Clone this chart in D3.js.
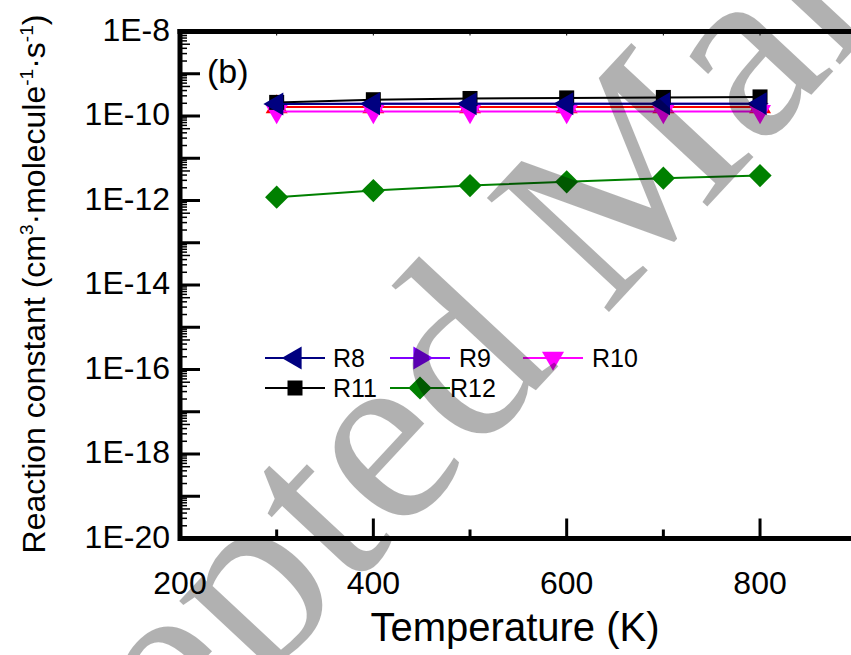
<!DOCTYPE html>
<meta charset="utf-8">
<script src="https://d3js.org/d3.v7.min.js"></script>
<style>
  body { margin: 0; background: #fff; }
  text { font-family: Arial, "Liberation Sans", sans-serif; }
</style>
<div id="chart"></div>
<script>
  // temperatures (K) and rate constants (cm3 molecule-1 s-1)
  var temps = [300, 400, 500, 600, 700, 800];
  var r7  = [1.64e-10, 1.64e-10, 1.64e-10, 1.64e-10, 1.64e-10, 1.64e-10];
  var r8  = [1.93e-10, 1.96e-10, 1.96e-10, 1.96e-10, 1.96e-10, 1.96e-10];
  var r9  = [1.93e-10, 1.96e-10, 1.96e-10, 1.96e-10, 1.96e-10, 1.96e-10];
  var r10 = [1.28e-10, 1.28e-10, 1.28e-10, 1.28e-10, 1.28e-10, 1.28e-10];
  var r11 = [2.1e-10, 2.43e-10, 2.6e-10, 2.68e-10, 2.75e-10, 2.83e-10];
  var r12 = [1.2e-12, 1.72e-12, 2.26e-12, 2.77e-12, 3.38e-12, 3.9e-12];

  var xTicks = [200, 400, 600, 800];
  var xMinor = [300, 500, 700];
  var yLabels = ["1E-20", "1E-18", "1E-16", "1E-14", "1E-12", "1E-10", "1E-8"];

  var width = 851, height = 655;

  var svg = d3.select("#chart")
    .append("svg")
      .attr("width", width)
      .attr("height", height);

  var x = d3.scaleLinear()
    .domain([200, 900])
    .range([180, 856.7]);

  var y = d3.scaleLog()
    .domain([1e-20, 1e-8])
    .range([538.5, 31.5]);

  // series: drawing order matters, navy ends on top (R9 sits hidden beneath it)
  var series = [
    {name: "R9",  vals: r9,  color: "#8000ff", shape: "right", plotSize: 100},
    {name: "R7",  vals: r7,  color: "#ff0000", shape: "up"},
    {name: "R10", vals: r10, color: "#ff00ff", shape: "down"},
    {name: "R12", vals: r12, color: "#008000", shape: "diamond"},
    {name: "R11", vals: r11, color: "#000000", shape: "square"},
    {name: "R8",  vals: r8,  color: "#000080", shape: "left"}
  ];

  function marker(shape, size) {
    if (shape == "square") return {d: d3.symbol(d3.symbolSquare, size || 225)(), rot: 0};
    if (shape == "diamond") return {d: d3.symbol(d3.symbolSquare, size || 270)(), rot: 45};
    if (shape == "left") return {d: d3.symbol(d3.symbolTriangle, size || 229)(), rot: -90};
    if (shape == "right") return {d: d3.symbol(d3.symbolTriangle, size || 229)(), rot: 90};
    if (shape == "down") return {d: d3.symbol(d3.symbolTriangle, size || 210)(), rot: 180};
    return {d: d3.symbol(d3.symbolTriangle, size || 210)(), rot: 0};
  }

  var line = d3.line()
    .x(function(d) { return x(d[0]); })
    .y(function(d) { return y(d[1]); });

  series.forEach(function(s) {
    var pts = temps.map(function(t, i) { return [t, s.vals[i]]; });
    var m = marker(s.shape, s.plotSize);
    svg.append("path")
      .datum(pts)
      .attr("fill", "none")
      .attr("stroke", s.color)
      .attr("stroke-width", 2)
      .attr("d", line);
    svg.selectAll(null)
      .data(pts)
      .enter()
      .append("path")
        .attr("d", m.d)
        .attr("fill", s.color)
        .attr("transform", function(d) {
          return "translate(" + x(d[0]) + "," + y(d[1]) + ") rotate(" + m.rot + ")";
        });
  });

  // axes frame
  var ax = svg.append("g").attr("stroke", "#000");
  ax.append("line").attr("x1", x(200)).attr("x2", width).attr("y1", y(1e-20)).attr("y2", y(1e-20)).attr("stroke-width", 5);
  ax.append("line").attr("x1", x(200) - 2.5).attr("x2", width).attr("y1", y(1e-8)).attr("y2", y(1e-8)).attr("stroke-width", 5);
  ax.append("line").attr("x1", x(200)).attr("x2", x(200)).attr("y1", y(1e-8) - 2.5).attr("y2", y(1e-20) + 2.5).attr("stroke-width", 5);

  // x ticks (inward)
  xTicks.forEach(function(t) {
    ax.append("line").attr("x1", x(t)).attr("x2", x(t)).attr("y1", y(1e-20)).attr("y2", y(1e-20) - 20).attr("stroke-width", 3);
  });
  xMinor.forEach(function(t) {
    ax.append("line").attr("x1", x(t)).attr("x2", x(t)).attr("y1", y(1e-20)).attr("y2", y(1e-20) - 9).attr("stroke-width", 3);
  });
  xTicks.concat(xMinor).forEach(function(t) {
    ax.append("line").attr("x1", x(t)).attr("x2", x(t)).attr("y1", y(1e-8)).attr("y2", y(1e-8) + 4).attr("stroke-width", 1);
  });

  // y ticks, every decade plus minor 2..9
  for (var e = -20; e <= -8; e++) {
    var v = Math.pow(10, e);
    ax.append("line").attr("x1", x(200)).attr("x2", x(200) + 20).attr("y1", y(v)).attr("y2", y(v)).attr("stroke-width", 3);
    if (e < -8) {
      for (var k = 2; k <= 9; k++) {
        ax.append("line").attr("x1", x(200)).attr("x2", x(200) + (k == 5 ? 10 : 7))
          .attr("y1", y(k * v)).attr("y2", y(k * v)).attr("stroke-width", 1.5);
      }
    }
  }

  // tick labels
  yLabels.forEach(function(lab) {
    svg.append("text")
      .attr("x", 170)
      .attr("y", y(+lab) - 2)
      .attr("dy", "0.35em")
      .attr("text-anchor", "end")
      .style("font-size", "32px")
      .text(lab);
  });
  xTicks.forEach(function(t) {
    svg.append("text")
      .attr("x", x(t))
      .attr("y", 594)
      .attr("text-anchor", "middle")
      .style("font-size", "32px")
      .text(t);
  });

  // axis titles
  svg.append("text")
    .attr("x", 515)
    .attr("y", 641)
    .attr("text-anchor", "middle")
    .style("font-size", "40px")
    .text("Temperature (K)");

  var yt = svg.append("text")
    .attr("transform", "translate(45,284) rotate(-90)")
    .attr("text-anchor", "middle")
    .style("font-size", "32px");
  yt.append("tspan").text("Reaction constant (cm");
  yt.append("tspan").attr("dy", -12).style("font-size", "19px").text("3");
  yt.append("tspan").attr("dy", 12).text("\u00b7molecule");
  yt.append("tspan").attr("dy", -12).style("font-size", "19px").text("-1");
  yt.append("tspan").attr("dy", 12).text("\u00b7s");
  yt.append("tspan").attr("dy", -12).style("font-size", "19px").text("-1");
  yt.append("tspan").attr("dy", 12).text(")");

  svg.append("text")
    .attr("x", 207)
    .attr("y", 83)
    .style("font-size", "34px")
    .text("(b)");

  // legend
  var legend = [
    {s: series[5], lx: 265, ly: 358, tx: 333},
    {s: series[0], lx: 390, ly: 358, tx: 459},
    {s: series[2], lx: 523, ly: 358, tx: 592},
    {s: series[4], lx: 265, ly: 388, tx: 333},
    {s: series[3], lx: 390, ly: 388, tx: 450}
  ];
  legend.forEach(function(l) {
    var m = marker(l.s.shape);
    svg.append("line")
      .attr("x1", l.lx).attr("x2", l.lx + 60)
      .attr("y1", l.ly).attr("y2", l.ly)
      .attr("stroke", l.s.color).attr("stroke-width", 2);
    svg.append("path")
      .attr("d", m.d)
      .attr("fill", l.s.color)
      .attr("transform", "translate(" + (l.lx + 30) + "," + l.ly + ") rotate(" + m.rot + ")");
    svg.append("text")
      .attr("x", l.tx)
      .attr("y", l.ly + 9)
      .style("font-size", "25px")
      .text(l.s.name);
  });

  // watermark
  svg.append("text")
    .attr("transform", "translate(650,268) rotate(-47)")
    .attr("text-anchor", "middle")
    .style("font-family", "'Liberation Serif', serif")
    .style("font-size", "255px")
    .attr("fill", "#000")
    .attr("opacity", 0.3)
    .text("Accepted Manuscript");
</script>
